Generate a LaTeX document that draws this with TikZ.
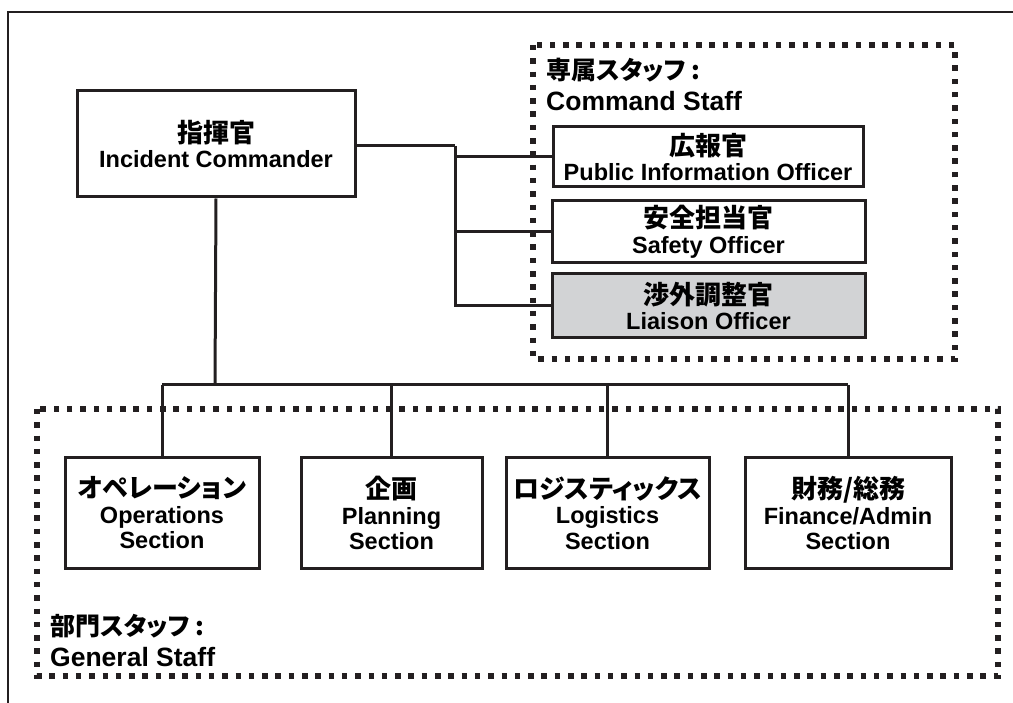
\documentclass[tikz,border=0pt]{standalone}
\usepackage{fontspec}
\setmainfont{Liberation Sans}
\newfontfamily\jp[RawFeature=+palt]{Noto Sans CJK JP}
\definecolor{ink}{RGB}{35,31,32}
\definecolor{lgray}{RGB}{210,211,213}
\begin{document}
\begin{tikzpicture}[x=1pt,y=-1pt,
  box/.style={draw=ink,line width=3pt,inner sep=0pt,align=center,font=\fontsize{23.5}{25.5}\selectfont\bfseries},
  conn/.style={draw=ink,line width=3pt},
  grp/.style={draw=ink,line width=5.5pt,dash pattern=on 5.5pt off 7.8pt},
  lbl/.style={anchor=west,inner sep=0pt,align=left,font=\fontsize{26.5}{31}\selectfont\bfseries}]
\useasboundingbox (0,0) rectangle (1013,703);
% outer frame
\draw[ink,line width=2.5pt] (8,703) -- (8,12) -- (1013,12);
% groups
\draw[grp] (533,45) rectangle (955,359);
\draw[grp] (37,409) rectangle (998,676);
\node[lbl] (cslbl) at (546,84) {{\jp\fontsize{25}{31}\selectfont 専属スタッフ :}\\Command Staff};
\node[lbl] (gslbl) at (50,641) {{\jp\fontsize{25}{31}\selectfont 部門スタッフ :}\\General Staff};
% boxes
\node[box,minimum width=278pt,minimum height=106pt] (ic) at (216,144) {{\jp\fontsize{26}{26}\selectfont 指揮官}\\Incident Commander};
\node[box,minimum width=310pt,minimum height=60pt] (pio) at (708,157) {{\jp\fontsize{26}{26}\selectfont 広報官}\\Public Information Officer};
\node[box,minimum width=313pt,minimum height=62pt] (so) at (708.5,232) {{\jp\fontsize{26}{26}\selectfont 安全担当官}\\Safety Officer};
\node[box,fill=lgray,minimum width=313pt,minimum height=64pt] (lo) at (708.5,306) {{\jp\fontsize{26}{26}\selectfont 渉外調整官}\\Liaison Officer};
\node[box,minimum width=194pt,minimum height=110pt] (ops) at (162,513) {{\jp\fontsize{26}{26}\selectfont オペレーション}\\Operations\\Section};
\node[box,minimum width=181pt,minimum height=110pt] (pln) at (391.5,513) {{\jp\fontsize{26}{26}\selectfont 企画}\\Planning\\Section};
\node[box,minimum width=203pt,minimum height=110pt] (log) at (607.5,513) {{\jp\fontsize{26}{26}\selectfont ロジスティックス}\\Logistics\\Section};
\node[box,minimum width=206pt,minimum height=110pt] (fin) at (848,513) {{\jp\fontsize{26}{26}\selectfont 財務/総務}\\Finance/Admin\\Section};
% command staff connectors
\coordinate (j0) at (455,146);
\coordinate (j3) at (455,306);
\draw[conn] (ic.east |- j0) -- (j0);
\draw[conn] (j0) -- (j3) -- (lo.west);
\draw[conn] (j0 |- pio.west) -- (pio.west);
\draw[conn] (j0 |- so.west) -- (so.west);
% general staff connectors
\coordinate (bus) at (215,385);
\draw[conn] (ic.south) -- (bus);
\draw[conn] (ops.north |- bus) -- (fin.north |- bus);
\draw[conn] (ops.north |- bus) -- (ops.north);
\draw[conn] (pln.north |- bus) -- (pln.north);
\draw[conn] (log.north |- bus) -- (log.north);
\draw[conn] (fin.north |- bus) -- (fin.north);
\end{tikzpicture}
\end{document}
